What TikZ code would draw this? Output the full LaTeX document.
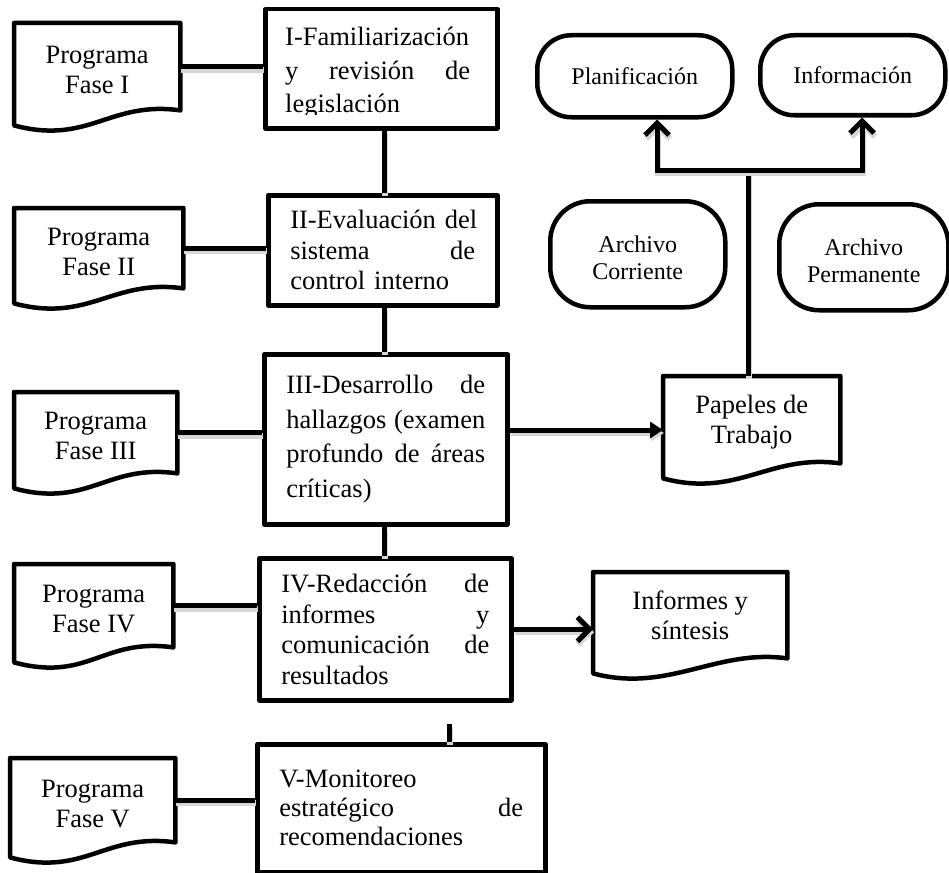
\documentclass[tikz,border=0pt]{standalone}
\usepackage{fontspec}
\setmainfont{Liberation Serif}
\usetikzlibrary{arrows.meta,calc}
\newcommand{\drawdoc}[1]{\draw[bord] (#1.south east) -- (#1.north east) -- (#1.north west) -- ([yshift=-15pt]#1.south west) .. controls +(75,20) and +(-71,-10) .. (#1.south east) -- cycle;}
\newcommand{\txl}[1]{\noindent\hbox to\hsize{#1}}
\newcommand{\tstrut}{\rule{0pt}{24pt}}
\begin{document}
\begin{tikzpicture}[x=1pt,y=-1pt,
  bord/.style={line width=4.5pt, line join=round},
  conn/.style={line width=5pt, preaction={draw=black!16, line width=6pt, transform canvas={xshift=1pt,yshift=-3pt}}},
  procbox/.style={draw, bord, anchor=north west, inner xsep=22pt, inner ysep=0pt, align=left, font=\fontsize{26.5}{30.5}\selectfont},
  docnode/.style={anchor=north west, inner sep=0pt, align=center, font=\fontsize{26.5}{30}\selectfont},
  term/.style={draw, bord, anchor=north west, rounded corners=34pt, inner sep=0pt, align=center, font=\fontsize{24}{27.5}\selectfont},
  openarr/.style={conn, -{Straight Barb[length=12pt,width=24pt]}},
  fillarr/.style={conn, -{Triangle[length=13pt,width=16pt]}},
]
\useasboundingbox (0,0) rectangle (949,872);
% process boxes
\node[procbox, minimum width=232pt, minimum height=119pt] (b1) at (263,7) {};
\begin{scope}
  \clip (263,7) rectangle (495,114);
  \node[anchor=base west, inner sep=0pt, text width=185pt, align=left, font=\fontsize{26.5}{33.5}\selectfont] (t1) at (285,46)
    {\txl{I-Familiarización\hfil}\\\txl{y\hfill revisión\hfill de}\\\txl{legislación\hfil}};
\end{scope}
\node[procbox, minimum width=229pt, minimum height=110pt, text width=185pt] (b2) at (266,193)
  {\txl{II-Evaluación del\hfil}\\\txl{sistema\hfill de}\\\txl{control interno\hfil}};
\node[procbox, minimum width=243pt, minimum height=170pt, text width=199pt, font=\fontsize{26.5}{34.5}\selectfont] (b3) at (262,352)
  {\txl{III-Desarrollo\hfill de}\\\txl{hallazgos\hfill (examen}\\\txl{profundo\hfill de\hfill áreas}\\\txl{críticas)\hfil}};
\node[procbox, minimum width=252pt, minimum height=142pt, text width=208pt] (b4) at (257,556)
  {\txl{IV-Redacción\hfill de}\\\txl{informes\hfill y}\\\txl{comunicación\hfill de}\\\txl{resultados\hfil}};
\node[procbox, minimum width=288pt, minimum height=128pt, text width=244pt, font=\fontsize{26.5}{29}\selectfont] (b5) at (255,742)
  {\txl{V-Monitoreo\hfil}\\\txl{estratégico\hfill de}\\\txl{recomendaciones\hfil}};
% documents
\node[docnode, minimum width=166pt, minimum height=87pt] (d1) at (14,23) {\tstrut Programa\\Fase I};
\node[docnode, minimum width=169pt, minimum height=80pt] (d2) at (14,208) {\tstrut Programa\\Fase II};
\node[docnode, minimum width=163pt, minimum height=81pt] (d3) at (14,392) {\tstrut Programa\\Fase III};
\node[docnode, minimum width=159pt, minimum height=83pt] (d4) at (14,564) {\tstrut Programa\\Fase IV};
\node[docnode, minimum width=165pt, minimum height=84pt] (d5) at (10,758) {\tstrut Programa\\Fase V};
\node[docnode, minimum width=177pt, minimum height=87pt] (p) at (663,376) {\tstrut Papeles de\\Trabajo};
\node[docnode, minimum width=194pt, minimum height=86pt] (s) at (593,572) {Informes y\\síntesis};
\drawdoc{d1}\drawdoc{d2}\drawdoc{d3}\drawdoc{d4}\drawdoc{d5}\drawdoc{p}\drawdoc{s}
% terminals
\node[term, minimum width=195pt, minimum height=82pt] (pl) at (535,33) {Planificación};
\node[term, minimum width=185pt, minimum height=80pt] (inf) at (758,33) {Información};
\node[term, minimum width=175pt, minimum height=106pt, rounded corners=40pt] (ac) at (548,199) {\tstrut Archivo\\Corriente};
\node[term, minimum width=169pt, minimum height=106pt, rounded corners=40pt] (ap) at (777,202) {\tstrut Archivo\\Permanente};
% connectors
\draw[conn] (d1.east) -- (d1.east -| b1.west);
\draw[conn] (d2.east) -- (d2.east -| b2.west);
\draw[conn] (d3.east) -- (d3.east -| b3.west);
\draw[conn] (d4.east) -- (d4.east -| b4.west);
\draw[conn] (d5.east) -- (d5.east -| b5.west);
\coordinate (vx) at (384,0);
\draw[conn] (b1.south -| vx) -- (b2.north -| vx);
\draw[conn] (b2.south -| vx) -- (b3.north -| vx);
\draw[conn] (b3.south -| vx) -- (b4.north -| vx);
\coordinate (c45) at (449,724);
\draw[conn] (c45) -- (c45 |- b5.north);
\coordinate (ya) at (0,430);
\draw[fillarr] (b3.east |- ya) -- (p.west |- ya);
\draw[openarr] (b4.east) -- (b4.east -| s.west);
\coordinate (jn) at (748,170);
\coordinate (tl) at (657,0);
\coordinate (tr) at (862,0);
\draw[conn] (p.north -| jn) -- (jn);
\draw[openarr] (jn) -| (tl |- pl.south);
\draw[openarr] (jn) -| (tr |- inf.south);
\end{tikzpicture}
\end{document}
